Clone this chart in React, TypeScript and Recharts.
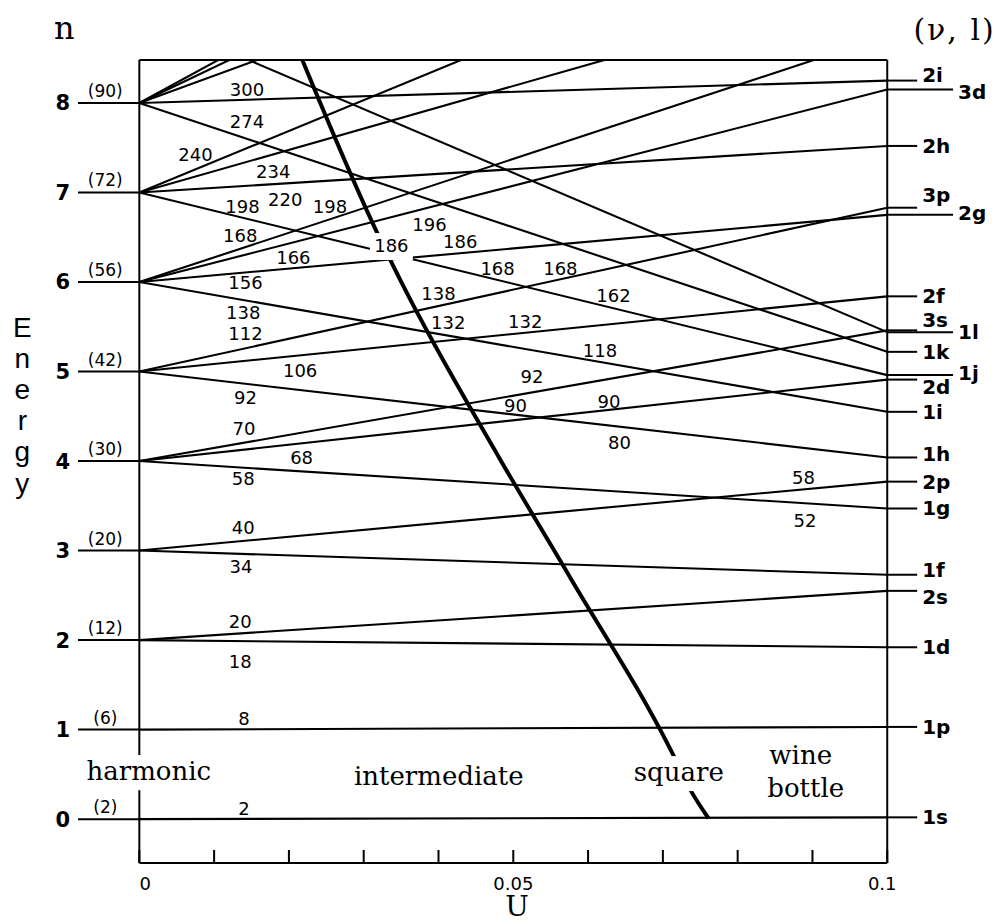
import React from 'react';
import { LineChart, Line, XAxis, YAxis, ReferenceLine, ReferenceDot } from 'recharts';

// oscillator shells at U = 0 and how many states each holds
const levels = [0, 1, 2, 3, 4, 5, 6, 7, 8];
const degeneracy = [2, 6, 12, 20, 30, 42, 56, 72, 90];

// single-particle states (v, l): shell they leave from at U = 0, energy reached at U = 0.1
const stateNames = ['1s', '1p', '1d', '2s', '1f', '2p', '1g', '2d', '3s', '1h', '2f', '3p', '1i', '2g', '3d', '4s', '1j', '2h', '3f', '4p', '1k', '2i', '3g', '4d', '5s', '1l'];
const stateStart = [0, 1, 2, 2, 3, 3, 4, 4, 4, 5, 5, 5, 6, 6, 6, 6, 7, 7, 7, 7, 8, 8, 8, 8, 8, 9];
const stateEnd = [0.02, 1.03, 1.92, 2.55, 2.73, 3.77, 3.47, 4.91, 5.46, 4.04, 5.84, 6.83, 4.55, 6.75, 8.15, 8.75, 4.96, 7.52, 9.38, 10.44, 5.22, 8.25, 11.05, 11.99, 12.55, 5.44];

// boundary where the well becomes square
const squareU = [0.0212, 0.0318, 0.0349, 0.0483, 0.0576, 0.0714, 0.0737, 0.0761];
const squareE = [8.6, 6.55, 6.02, 4.01, 2.7, 0.715, 0.324, 0.01];

// running totals of states written between the lines
const shellCounts = ['300', '274', '240', '234', '220', '198', '198', '168', '196', '186', '166', '156', '168', '168', '138', '112', '138', '132', '132', '162', '118', '106', '92', '92', '90', '90', '70', '68', '80', '58', '58', '52', '40', '34', '20', '18', '8', '2'];
const shellCountU = [0.0144, 0.0144, 0.0075, 0.0179, 0.0195, 0.0138, 0.0255, 0.0135, 0.0388, 0.0429, 0.0206, 0.0142, 0.0479, 0.0563, 0.0139, 0.0142, 0.04, 0.0413, 0.0516, 0.0634, 0.0616, 0.0215, 0.0142, 0.0525, 0.0503, 0.0628, 0.014, 0.0217, 0.0642, 0.0139, 0.0888, 0.089, 0.0139, 0.0136, 0.0135, 0.0135, 0.014, 0.014];
const shellCountE = [8.156, 7.788, 7.419, 7.24, 6.927, 6.838, 6.838, 6.525, 6.637, 6.447, 6.279, 5.989, 6.156, 6.156, 5.654, 5.43, 5.877, 5.553, 5.564, 5.844, 5.24, 5.017, 4.715, 4.95, 4.615, 4.67, 4.369, 4.045, 4.212, 3.81, 3.821, 3.341, 3.263, 2.827, 2.212, 1.765, 1.128, 0.123];

// the 186 that sits on the crossing, drawn over a white patch
const crossingCount = { text: '186', u: 0.0337, e: 6.413 };

// well shapes along the U axis
const regionNames = ['harmonic', 'intermediate', 'square', 'wine', 'bottle'];
const regionU = [0.00127, 0.04004, 0.07213, 0.08843, 0.0891];
const regionE = [0.436, 0.38, 0.425, 0.615, 0.246];

const uTicks = [0, 0.01, 0.02, 0.03, 0.04, 0.05, 0.06, 0.07, 0.08, 0.09, 0.1];
const uTickLabels = ['0', '', '', '', '', '0.05', '', '', '', '', '0.1'];

const U_MIN = -0.0082;
const U_MAX = 0.112;
const E_MIN = -0.49;
const E_MAX = 8.48;
const STUB_SHORT = 0.104;
const STUB_LONG = 0.1088;

const INK = '#000';
const SANS = 'DejaVu Sans';
const SERIF = 'DejaVu Serif';

// labels that run further right, and small vertical nudges to keep them apart
const longStub = ['3d', '2g', '1l', '1j'];
const labelNudge: Record<string, number> = { '2i': -6, '3d': 2, '3p': -13, '2g': -2, '3s': -10, '1j': -2, '2d': 7, '1h': -3, '1f': -5, '2s': 6 };

type TextOpts = {
  size: number;
  family?: string;
  weight?: string;
  anchor?: 'start' | 'middle' | 'end';
  dx?: number;
  dy?: number;
  spacing?: number;
  baseline?: 'central' | 'alphabetic';
  bg?: { w: number; top: number; h: number };
};

const textLabel = (value: string, o: TextOpts) => (props: any) => {
  const vb = props.viewBox || {};
  const x = (vb.x ?? 0) + (o.dx ?? 0);
  const y = (vb.y ?? 0) + (o.dy ?? 0);
  return (
    <g>
      {o.bg && <rect x={x - o.bg.w / 2} y={y + o.bg.top} width={o.bg.w} height={o.bg.h} fill="#fff" />}
      <text
        x={x}
        y={y}
        textAnchor={o.anchor ?? 'middle'}
        dominantBaseline={o.baseline ?? 'central'}
        fontSize={o.size}
        fontFamily={o.family ?? SANS}
        fontWeight={o.weight ?? 'normal'}
        letterSpacing={o.spacing ?? 0}
        fill={INK}
      >
        {value}
      </text>
    </g>
  );
};

const energyLetters = (props: any) => {
  const vb = props.viewBox || {};
  return (
    <g>
      {'Energy'.split('').map((ch, i) => (
        <text key={i} x={vb.x} y={vb.y + i * 31.2} textAnchor="middle" dominantBaseline="central" fontSize={28} fontFamily="Liberation Sans" fill={INK}>
          {ch}
        </text>
      ))}
    </g>
  );
};

const XTick = (p: any) => {
  const v = p.payload?.value ?? 0;
  const i = uTicks.findIndex((t) => Math.abs(t - v) < 1e-9);
  const label = i >= 0 ? uTickLabels[i] : '';
  if (!label) return <g />;
  const dx = i === 0 ? 6 : i === uTicks.length - 1 ? -5 : 0;
  return (
    <text x={p.x + dx} y={p.y} dy="0.73em" textAnchor="middle" fontSize={18} fontFamily={SANS} fill={INK}>
      {label}
    </text>
  );
};

const edge = { stroke: INK, strokeWidth: 2 };
const LINE_W = 2.1;

export default function App() {
  const fans = stateNames.map((name, i) => ({
    name,
    points: [
      { u: 0, e: stateStart[i] },
      { u: 0.1, e: stateEnd[i] },
    ],
  }));
  const squarePoints = squareU.map((u, i) => ({ u, e: squareE[i] }));
  const labelled = stateNames.map((name, i) => ({ name, e: stateEnd[i] })).filter((s) => s.e <= E_MAX);

  return (
    <div style={{ width: 990, height: 915 }}>
      <LineChart width={990} height={915} margin={{ top: 52, right: 21, bottom: 15, left: 20 }}>
        <XAxis
          dataKey="u"
          type="number"
          domain={[U_MIN, U_MAX]}
          allowDataOverflow
          ticks={uTicks}
          interval={0}
          axisLine={false}
          tickSize={-13}
          tickMargin={27}
          tickLine={{ stroke: INK, strokeWidth: 2 }}
          tick={<XTick />}
          height={45}
        />
        <YAxis
          type="number"
          domain={[E_MIN, E_MAX]}
          allowDataOverflow
          ticks={levels}
          interval={0}
          axisLine={false}
          tickLine={false}
          tickSize={0}
          tickMargin={8}
          width={50}
          tick={{ fontFamily: SANS, fontWeight: 'bold', fontSize: 21, fill: INK }}
        />

        {/* frame, with the left side broken for the "harmonic" caption */}
        <ReferenceLine segment={[{ x: 0, y: E_MAX }, { x: 0.1, y: E_MAX }]} {...edge} />
        <ReferenceLine segment={[{ x: 0, y: E_MIN }, { x: 0.1, y: E_MIN }]} {...edge} />
        <ReferenceLine segment={[{ x: 0.1, y: E_MIN }, { x: 0.1, y: E_MAX }]} {...edge} />
        <ReferenceLine segment={[{ x: 0, y: 0.715 }, { x: 0, y: E_MAX }]} {...edge} />
        <ReferenceLine segment={[{ x: 0, y: E_MIN }, { x: 0, y: 0.324 }]} {...edge} />

        {/* shell stubs on the left */}
        {levels.map((n) => (
          <ReferenceLine key={`lv-${n}`} segment={[{ x: U_MIN, y: n }, { x: 0, y: n }]} {...edge} />
        ))}

        {/* state stubs on the right */}
        {labelled.map((s) => (
          <ReferenceLine
            key={`st-${s.name}`}
            segment={[{ x: 0.1, y: s.e }, { x: longStub.includes(s.name) ? STUB_LONG : STUB_SHORT, y: s.e }]}
            {...edge}
          />
        ))}

        {fans.map((f) => (
          <Line
            key={`fan-${f.name}`}
            data={f.points}
            dataKey="e"
            type="linear"
            stroke={INK}
            strokeWidth={LINE_W}
            dot={false}
            activeDot={false}
            isAnimationActive={false}
          />
        ))}
        <Line data={squarePoints} dataKey="e" type="monotone" stroke={INK} strokeWidth={4} dot={false} activeDot={false} isAnimationActive={false} />

        {/* degeneracies */}
        {levels.map((n, i) => (
          <ReferenceDot key={`dg-${n}`} x={-0.00455} y={n} r={0} fill="none" stroke="none" ifOverflow="visible" label={textLabel(`(${degeneracy[i]})`, { size: 17, dy: -12 })} />
        ))}

        {/* state names */}
        {labelled.map((s) => (
          <ReferenceDot
            key={`nm-${s.name}`}
            x={longStub.includes(s.name) ? STUB_LONG : STUB_SHORT}
            y={s.e}
            r={0}
            fill="none"
            stroke="none"
            ifOverflow="visible"
            label={textLabel(s.name, { size: 20, weight: 'bold', anchor: 'start', dx: 5, dy: labelNudge[s.name] ?? 0 })}
          />
        ))}

        {shellCounts.map((c, i) => (
          <ReferenceDot key={`ct-${i}`} x={shellCountU[i]} y={shellCountE[i]} r={0} fill="none" stroke="none" ifOverflow="visible" label={textLabel(c, { size: 18 })} />
        ))}
        <ReferenceDot
          x={crossingCount.u}
          y={crossingCount.e}
          r={0}
          fill="none"
          stroke="none"
          ifOverflow="visible"
          label={textLabel(crossingCount.text, { size: 18, bg: { w: 43, top: -12, h: 27 } })}
        />

        {regionNames.map((r, i) => (
          <ReferenceDot
            key={`rg-${r}`}
            x={regionU[i]}
            y={regionE[i]}
            r={0}
            fill="none"
            stroke="none"
            ifOverflow="visible"
            label={textLabel(r, {
              size: 26,
              family: SERIF,
              baseline: 'alphabetic',
              bg: r === 'harmonic' ? { w: 134, top: -25, h: 35 } : r === 'square' ? { w: 94, top: -25, h: 35 } : undefined,
            })}
          />
        ))}

        {/* axis titles */}
        <ReferenceDot x={-0.01003} y={8.72} r={0} fill="none" stroke="none" ifOverflow="visible" label={textLabel('n', { size: 32, family: SERIF, baseline: 'alphabetic' })} />
        <ReferenceDot x={0.109} y={8.704} r={0} fill="none" stroke="none" ifOverflow="visible" label={textLabel('(ν, l)', { size: 30, family: SERIF, baseline: 'alphabetic', spacing: 2 })} />
        <ReferenceDot x={0.0505} y={-1.08} r={0} fill="none" stroke="none" ifOverflow="visible" label={textLabel('U', { size: 28, family: SERIF, baseline: 'alphabetic' })} />
        <ReferenceDot x={-0.01564} y={5.497} r={0} fill="none" stroke="none" ifOverflow="visible" label={energyLetters} />
      </LineChart>
    </div>
  );
}
